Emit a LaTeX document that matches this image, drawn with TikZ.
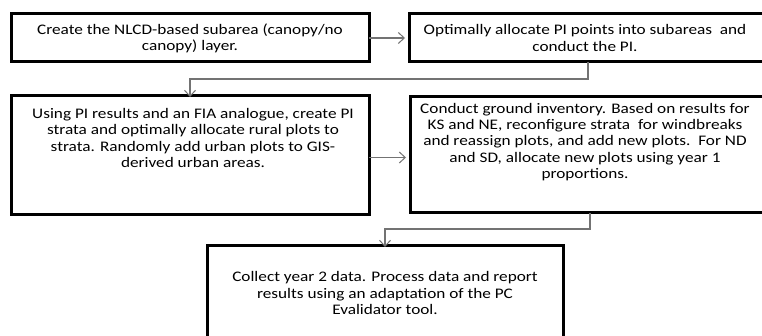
\documentclass[tikz,border=0pt]{standalone}
\usepackage{fontspec}
\setmainfont{Carlito}
\newfontfamily\boxfont[FakeStretch=1.18]{Carlito}
\usetikzlibrary{arrows.meta}
\begin{document}
\begin{tikzpicture}[x=1pt,y=-1pt,
  box/.style={draw=black,line width=3pt,fill=white,inner sep=0pt,outer sep=0pt,anchor=north west},
  txt/.style={align=center,inner sep=0pt,font=\boxfont\fontsize{14.6pt}{16.2pt}\selectfont},
  conn/.style={draw=black!55,line width=1.1pt},
  arr/.style={conn,-{Straight Barb[length=6pt,width=11pt,line width=1pt]}}]
\useasboundingbox (0,0) rectangle (762,336);
\clip (0,0) rectangle (762,336);
\fill[white] (0,0) rectangle (762,336);
% boxes
\node[box,minimum width=358pt,minimum height=48pt] (b1) at (11,14) {};
\node[box,minimum width=400pt,minimum height=48pt] (b2) at (409,14) {};
\node[box,minimum width=358pt,minimum height=119pt] (b3) at (11,96) {};
\node[box,minimum width=400pt,minimum height=116pt] (b4) at (410,97) {};
\node[box,minimum width=356pt,minimum height=140pt] (b5) at (207,246) {};
% texts
\node[txt] (t1) at (190,38) {Create the NLCD-based subarea (canopy/no\\canopy) layer.};
\node[txt] (t2) at (585,38) {Optimally allocate PI points into subareas\ \ and\\conduct the PI.};
\node[txt] (t3) at (193,138) {Using PI results and an FIA analogue, create PI\\strata and optimally allocate rural plots to\\strata. Randomly add urban plots to GIS-\\derived urban areas.};
\node[txt] (t4) at (585,142) {Conduct ground inventory. Based on results for\\KS and NE, reconfigure strata\ \ for windbreaks\\and reassign plots, and add new plots.\ \ For ND\\and SD, allocate new plots using year 1\\proportions.};
\node[txt] (t5) at (385,293) {Collect year 2 data. Process data and report\\results using an adaptation of the PC\\Evalidator tool.};
% connectors
\draw[arr] (b1.east) -- ([xshift=-4pt]b2.west);
\draw[arr] ([xshift=179pt]b2.south west) -- ++(0,17) -| ([yshift=-1pt]b3.north);
\draw[arr] ([yshift=-2pt]b3.east) -- ([xshift=-4pt,yshift=-2pt]b3.east -| b4.west);
\draw[arr] ([xshift=180pt]b4.south west) -- ++(0,16) -| ([yshift=-1pt]b5.north);
\end{tikzpicture}
\end{document}
